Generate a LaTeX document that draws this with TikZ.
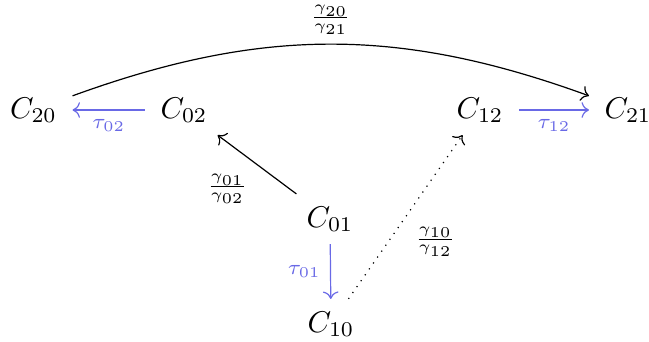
\documentclass[tikz,border=0pt]{standalone}
\usepackage{amsmath}
\usepackage{tikz}
\usetikzlibrary{arrows.meta}
\definecolor{tau}{RGB}{105,105,230}

\begin{document}
\begin{tikzpicture}[x=0.3333pt,y=-0.3333pt,obj/.style={anchor=base,inner xsep=5pt,inner ysep=4pt},lbl/.style={inner sep=3pt},cyc/.style={->,tau}]
  \useasboundingbox (0,0) rectangle (649,341);
  \foreach \n/\x/\y in {20/33.5/118,02/184/118,12/480/118,21/628/118,01/330/227,10/331/332} {\node[obj] (C\n) at (\x,\y) {$C_{\n}$};}
  % the tau moves
  \draw[cyc] (C02) -- node[lbl,below] {$\scriptstyle\tau_{02}$} (C20);
  \draw[cyc] (C12) -- node[lbl,below] {$\scriptstyle\tau_{12}$} (C21);
  \draw[cyc] (C01) -- node[lbl,left] {$\scriptstyle\tau_{01}$} (C10);
  % the gamma ratios
  \draw[->] (C20) to[bend left=20] node[lbl,above] {$\scriptstyle\frac{\gamma_{20}}{\gamma_{21}}$} (C21);
  \draw[->] (C01) -- node[lbl,below left] {$\scriptstyle\frac{\gamma_{01}}{\gamma_{02}}$} (C02);
  \draw[->,dotted] (C10) -- node[lbl,below right] {$\scriptstyle\frac{\gamma_{10}}{\gamma_{12}}$} (C12);
\end{tikzpicture}
\end{document}
